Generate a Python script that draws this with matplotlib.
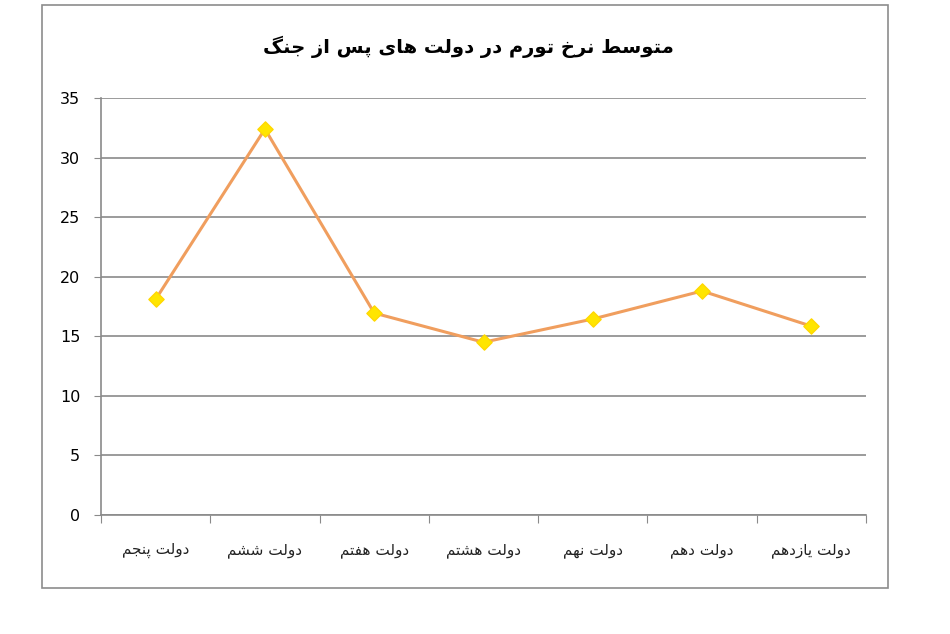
import matplotlib
matplotlib.use("Agg")
import matplotlib.pyplot as plt
from matplotlib.patches import Rectangle

# data
categories = ["دولت پنجم", "دولت ششم", "دولت هفتم", "دولت هشتم",
              "دولت نهم", "دولت دهم", "دولت یازدهم"]
inflation = [18.1, 32.4, 16.95, 14.5, 16.45, 18.8, 15.85]
title = "متوسط نرخ تورم در دولت های پس از جنگ"

# matplotlib does no arabic shaping, so pick presentation forms by hand
# letter: (isolated, final, initial, medial); two entries = no left join
FORMS = {
    "ا": ("\uFE8D", "\uFE8E"),
    "د": ("\uFEA9", "\uFEAA"),
    "ر": ("\uFEAD", "\uFEAE"),
    "ز": ("\uFEAF", "\uFEB0"),
    "و": ("\uFEED", "\uFEEE"),
    "ت": ("\uFE95", "\uFE96", "\uFE97", "\uFE98"),
    "ج": ("\uFE9D", "\uFE9E", "\uFE9F", "\uFEA0"),
    "خ": ("\uFEA5", "\uFEA6", "\uFEA7", "\uFEA8"),
    "س": ("\uFEB1", "\uFEB2", "\uFEB3", "\uFEB4"),
    "ش": ("\uFEB5", "\uFEB6", "\uFEB7", "\uFEB8"),
    "ط": ("\uFEC1", "\uFEC2", "\uFEC3", "\uFEC4"),
    "ف": ("\uFED1", "\uFED2", "\uFED3", "\uFED4"),
    "ل": ("\uFEDD", "\uFEDE", "\uFEDF", "\uFEE0"),
    "م": ("\uFEE1", "\uFEE2", "\uFEE3", "\uFEE4"),
    "ن": ("\uFEE5", "\uFEE6", "\uFEE7", "\uFEE8"),
    "ه": ("\uFEE9", "\uFEEA", "\uFEEB", "\uFEEC"),
    "پ": ("\uFB56", "\uFB57", "\uFB58", "\uFB59"),
    "گ": ("\uFB92", "\uFB93", "\uFB94", "\uFB95"),
    "ی": ("\uFBFC", "\uFBFD", "\uFBFE", "\uFBFF"),
}


def shape(text):
    out = []
    for i, ch in enumerate(text):
        if ch not in FORMS:
            out.append(ch)
            continue
        f = FORMS[ch]
        prev = text[i - 1] if i > 0 else ""
        nxt = text[i + 1] if i + 1 < len(text) else ""
        join_prev = prev in FORMS and len(FORMS[prev]) == 4
        join_next = len(f) == 4 and nxt in FORMS
        if join_prev and join_next:
            out.append(f[3])
        elif join_prev:
            out.append(f[1])
        elif join_next:
            out.append(f[2])
        else:
            out.append(f[0])
    return "".join(out)[::-1]


plt.rcParams['font.family'] = ['DejaVu Sans']

fig = plt.figure(figsize=(9.5, 6.34), dpi=100)
fig.patches.append(Rectangle((42 / 950, 1 - 588 / 634), 846 / 950, 583 / 634,
                             transform=fig.transFigure, fill=False,
                             edgecolor="#8c8c8c", linewidth=1.2))

ax = fig.add_axes([101 / 950, 1 - 515 / 634, 765 / 950, 417 / 634])

x = list(range(len(categories)))
ax.plot(x, inflation, color="#F09E5E", linewidth=2.2, zorder=3)
ax.scatter(x, inflation, marker="D", s=60, color="#FFE500",
           edgecolors="#FFD800", zorder=4)

ax.set_xlim(-0.5, len(categories) - 0.5)
ax.set_ylim(0, 35)
ax.set_yticks(range(0, 36, 5))
ax.yaxis.grid(True, color="#8a8a8a", linewidth=1.2)
ax.set_axisbelow(True)

# ticks sit at the category boundaries, labels at the centres
ax.set_xticks([i - 0.5 for i in range(len(categories) + 1)])
ax.set_xticklabels([])
ax.set_xticks(x, minor=True)
ax.set_xticklabels([shape(c) for c in categories], minor=True, fontsize=11,
                   color="#222222")
ax.tick_params(axis="x", which="minor", length=0, pad=20)
ax.tick_params(axis="x", which="major", length=6, color="#8a8a8a")
ax.tick_params(axis="y", length=5, color="#8a8a8a", labelsize=11.5, pad=10)

for s in ["top", "right"]:
    ax.spines[s].set_visible(False)
for s in ["left", "bottom"]:
    ax.spines[s].set_color("#8a8a8a")
    ax.spines[s].set_linewidth(1.2)

fig.text(468 / 950, 1 - 47 / 634, shape(title), ha="center", va="center",
         fontsize=14, fontweight="bold")

fig.savefig("out.png", dpi=100)
